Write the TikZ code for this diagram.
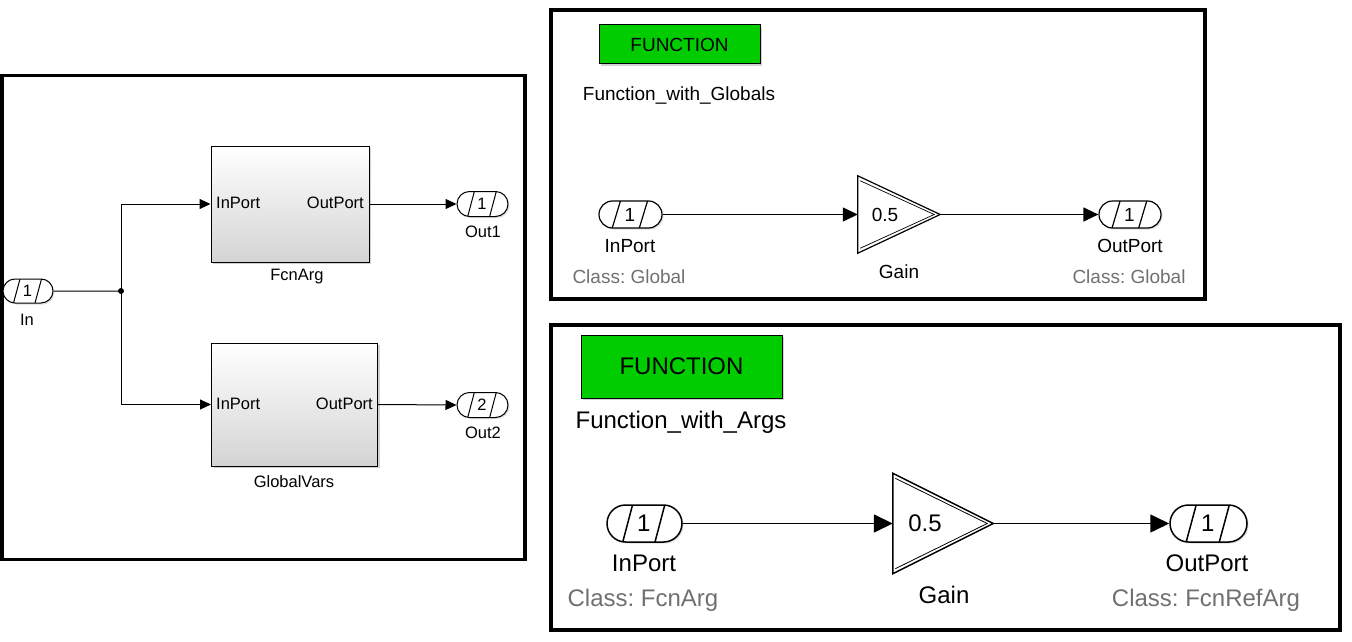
\documentclass[tikz,border=0pt]{standalone}
\usepackage{fontspec}
\setmainfont{Liberation Sans}
\usetikzlibrary{arrows.meta,shapes.misc,shadows,calc}
\frenchspacing
\newcommand\fsz[1]{\fontsize{#1pt}{#1pt}\selectfont}
\definecolor{fgreen}{RGB}{0,204,0}
\definecolor{cgray}{RGB}{112,112,112}
\newcommand\gaintri[3]{%
  \draw[line width=#2, fill=white] (#1.north west) -- (#1.east) -- (#1.south west) -- cycle;
  \draw[line width=#3] ($(#1.north west)+(2.5,5)$) -- ($(#1.east)+(-6,0)$) -- ($(#1.south west)+(2.5,-5)$);}
\tikzset{
  frame/.style={draw, line width=3.6pt},
  port/.style n args={3}{rounded rectangle, draw, line width=#3, inner sep=0pt, fill=white,
    drop shadow={shadow xshift=1.5pt, shadow yshift=-1.5pt, fill=black!25},
    path picture={
      \draw[line width=#3] ($(path picture bounding box.south west)!0.21!(path picture bounding box.south east)$) -- ($(path picture bounding box.north west)!0.34!(path picture bounding box.north east)$);
      \draw[line width=#3] ($(path picture bounding box.south west)!0.64!(path picture bounding box.south east)$) -- ($(path picture bounding box.north west)!0.77!(path picture bounding box.north east)$);
      \node[font=\fsz{#2}, inner sep=0pt] at ($(path picture bounding box.west)!0.49!(path picture bounding box.east)$) {#1};
    }},
  subsys/.style={draw, line width=1pt, top color=white, bottom color=black!17,
    drop shadow={shadow xshift=2pt, shadow yshift=-2pt, fill=black!35}, inner sep=0pt},
  fcnbox/.style={draw, line width=1pt, fill=fgreen, inner sep=0pt,
    drop shadow={shadow xshift=2pt, shadow yshift=-2pt, fill=black!35}},
  lbl/.style={inner sep=0pt},
  cls/.style={inner sep=0pt, text=cgray},
  gainbox/.style={inner sep=0pt},
  arrS/.style={line width=1pt, -{Triangle[length=11pt,width=10pt]}},
  arrM/.style={line width=1.2pt, -{Triangle[length=15pt,width=14pt]}},
  arrL/.style={line width=1.5pt, -{Triangle[length=19pt,width=18pt]}},
}
\begin{document}
\begin{tikzpicture}[x=1pt,y=-1pt]
\useasboundingbox (0,0) rectangle (1352,642);

% ---------- left panel ----------
\draw[frame] (1.8,75.5) rectangle (525,559.5);
\node[port={1}{16.5}{1pt}, minimum width=50, minimum height=24] (inL) at (28,291) {};
\node[lbl, font=\fsz{16.5}] (inLlbl) at (27,320) {In};
\coordinate (j) at (121,291);
\fill (j) circle (3);

\node[subsys, minimum width=158, minimum height=116] (fcn) at (290,204) {};
\node[lbl, font=\fsz{16.5}, anchor=west] (fcnin) at (216,203) {InPort};
\node[lbl, font=\fsz{16.5}, anchor=east] (fcnout) at (364,203) {OutPort};
\node[lbl, font=\fsz{16.5}] (fcnlbl) at (297,277) {FcnArg};

\node[subsys, minimum width=166, minimum height=123] (gv) at (294.5,404.5) {};
\node[lbl, font=\fsz{16.5}, anchor=west] (gvin) at (216,404) {InPort};
\node[lbl, font=\fsz{16.5}, anchor=east] (gvout) at (373,404) {OutPort};
\node[lbl, font=\fsz{16.5}] (gvlbl) at (294,482) {GlobalVars};

\node[port={1}{16.5}{1pt}, minimum width=51, minimum height=25] (out1) at (482.5,204) {};
\node[lbl, font=\fsz{16.5}] (out1lbl) at (483,232) {Out1};
\node[port={2}{16.5}{1pt}, minimum width=51, minimum height=25] (out2) at (482.5,405) {};
\node[lbl, font=\fsz{16.5}] (out2lbl) at (483,433) {Out2};

\draw[line width=1pt] (inL) -- (j);
\draw[arrS] (j) |- (fcn.west);
\draw[arrS] (j) |- (gv.west);
\draw[arrS] (fcn.east) -- (out1.west);
\draw[arrS] (gv.east) -- (out2.west);

% ---------- top right panel ----------
\draw[frame] (551,10) rectangle (1205,299);
\node[fcnbox, minimum width=161, minimum height=39, font=\fsz{19}] (fn1) at (679.5,44.5) {FUNCTION};
\node[lbl, font=\fsz{19}] (fn1lbl) at (679,95.5) {Function\_with\_Globals};

\node[port={1}{19}{1.2pt}, minimum width=63, minimum height=27] (tin) at (630.5,214.5) {};
\node[lbl, font=\fsz{19}] (tinlbl) at (630,246) {InPort};
\node[cls, font=\fsz{19}] (tincls) at (629,277) {Class: Global};

\node[gainbox, minimum width=82, minimum height=77] (tg) at (899,214.5) {};
\gaintri{tg}{1.2pt}{0.7pt}
\node[lbl, font=\fsz{19}] (tgval) at (885,214.5) {0.5};
\node[lbl, font=\fsz{19}] (tglbl) at (899,272) {Gain};

\node[port={1}{19}{1.2pt}, minimum width=62, minimum height=27] (tout) at (1130,214.5) {};
\node[lbl, font=\fsz{19}] (toutlbl) at (1130,246) {OutPort};
\node[cls, font=\fsz{19}] (toutcls) at (1129,277) {Class: Global};

\draw[arrM] (tin.east) -- (tg.west);
\draw[arrM] (tg.east) -- (tout.west);

% ---------- bottom right panel ----------
\draw[frame] (551,325) rectangle (1340,630);
\node[fcnbox, minimum width=201, minimum height=63, font=\fsz{24}] (fn2) at (681.5,366.5) {FUNCTION};
\node[lbl, font=\fsz{24}] (fn2lbl) at (681,422.5) {Function\_with\_Args};

\node[port={1}{24}{1.5pt}, minimum width=75, minimum height=37] (bin) at (644.5,523.5) {};
\node[lbl, font=\fsz{24}] (binlbl) at (644,563) {InPort};
\node[cls, font=\fsz{24}] (bincls) at (643,600) {Class: FcnArg};

\node[gainbox, minimum width=100, minimum height=100] (bg) at (943,523.5) {};
\gaintri{bg}{1.5pt}{0.8pt}
\node[lbl, font=\fsz{24}] (bgval) at (925,523.5) {0.5};
\node[lbl, font=\fsz{24}] (bglbl) at (944,595) {Gain};

\node[port={1}{24}{1.5pt}, minimum width=77, minimum height=37] (bout) at (1208.5,523.5) {};
\node[lbl, font=\fsz{24}] (boutlbl) at (1207,563) {OutPort};
\node[cls, font=\fsz{24}] (boutcls) at (1206,600) {Class: FcnRefArg};

\draw[arrL] (bin.east) -- (bg.west);
\draw[arrL] (bg.east) -- (bout.west);
\end{tikzpicture}
\end{document}
